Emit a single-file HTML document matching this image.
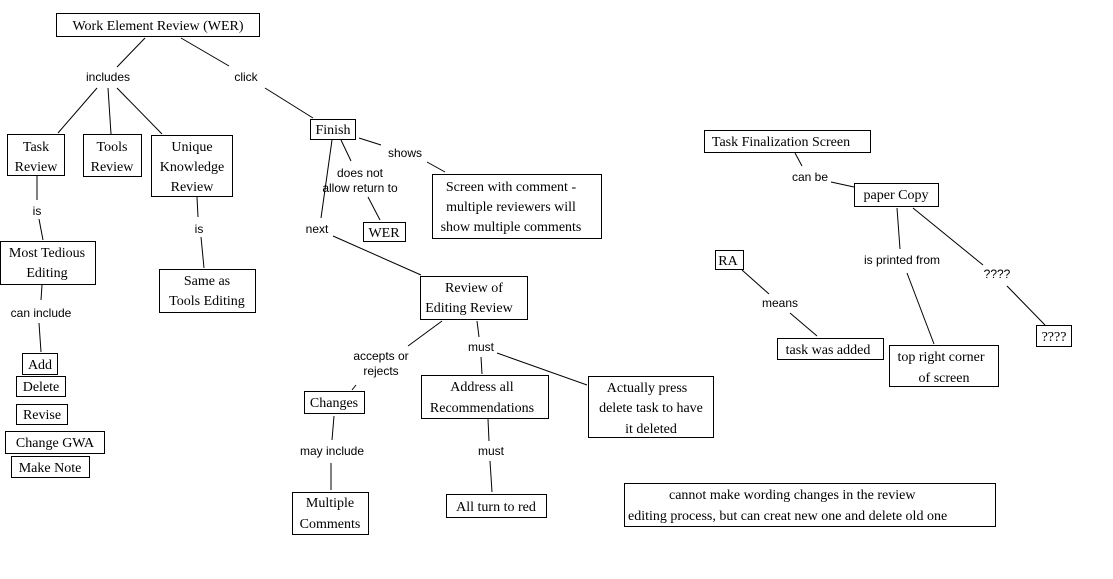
<!DOCTYPE html>
<html><head><meta charset="utf-8"><style>
body{margin:0;background:#fff;width:1113px;height:574px;overflow:hidden}
svg text{font-family:"Liberation Serif",serif;font-size:14px;fill:#000}
svg text.l{font-family:"Liberation Sans",sans-serif;font-size:12px}
rect{fill:#fff;stroke:#000;stroke-width:1}
line{stroke:#000;stroke-width:1}
</style></head><body>
<svg width="1113" height="574" xmlns="http://www.w3.org/2000/svg">
<g>
<line x1="145" y1="38" x2="117" y2="67"/><line x1="97" y1="88" x2="58" y2="133"/>
<line x1="108" y1="88" x2="111" y2="134"/><line x1="117" y1="88" x2="162" y2="134"/>
<line x1="181" y1="38" x2="229" y2="66"/><line x1="265" y1="88" x2="313" y2="118"/>
<line x1="37" y1="176" x2="37" y2="200"/><line x1="39" y1="219" x2="43" y2="240"/>
<line x1="197" y1="197" x2="198" y2="217"/><line x1="201" y1="237" x2="204" y2="268"/>
<line x1="42" y1="285" x2="41" y2="300"/><line x1="39" y1="323" x2="41" y2="352"/>
<line x1="332" y1="140" x2="321" y2="218"/><line x1="341" y1="140" x2="351" y2="161"/>
<line x1="368" y1="197" x2="380" y2="220"/>
<line x1="359" y1="138" x2="381" y2="145"/><line x1="427" y1="162" x2="445" y2="172"/>
<line x1="333" y1="236" x2="421" y2="275"/>
<line x1="442" y1="321" x2="408" y2="346"/><line x1="356" y1="385" x2="352" y2="390"/>
<line x1="477" y1="321" x2="479" y2="337"/><line x1="481" y1="357" x2="482" y2="374"/>
<line x1="497" y1="353" x2="587" y2="385"/>
<line x1="334" y1="416" x2="332" y2="440"/><line x1="331" y1="463" x2="331" y2="490"/>
<line x1="488" y1="419" x2="489" y2="441"/><line x1="490" y1="461" x2="492" y2="492"/>
<line x1="795" y1="153" x2="802" y2="166"/><line x1="831" y1="182" x2="854" y2="187"/>
<line x1="897" y1="208" x2="900" y2="249"/><line x1="907" y1="273" x2="934" y2="344"/>
<line x1="913" y1="208" x2="983" y2="265"/><line x1="1007" y1="286" x2="1045" y2="325"/>
<line x1="742" y1="270" x2="769" y2="294"/><line x1="790" y1="313" x2="817" y2="336"/>
</g>
<g text-anchor="middle">
<text class="l" x="108" y="81">includes</text>
<text class="l" x="246" y="81">click</text>
<text class="l" x="37" y="215">is</text>
<text class="l" x="199" y="233">is</text>
<text class="l" x="41" y="317">can include</text>
<text class="l" x="360" y="177">does not</text>
<text class="l" x="360" y="192">allow return to</text>
<text class="l" x="405" y="157">shows</text>
<text class="l" x="317" y="233">next</text>
<text class="l" x="381" y="360">accepts or</text>
<text class="l" x="381" y="375">rejects</text>
<text class="l" x="481" y="351">must</text>
<text class="l" x="332" y="455">may include</text>
<text class="l" x="491" y="455">must</text>
<text class="l" x="810" y="181">can be</text>
<text class="l" x="902" y="264">is printed from</text>
<text class="l" x="997" y="278">????</text>
<text class="l" x="780" y="307">means</text>
</g>
<rect x="56.5" y="13.5" width="203" height="23"/>
<rect x="7.5" y="134.5" width="57" height="41"/>
<rect x="83.5" y="134.5" width="58" height="42"/>
<rect x="151.5" y="135.5" width="81" height="61"/>
<rect x="0.5" y="241.5" width="95" height="43"/>
<rect x="159.5" y="269.5" width="96" height="43"/>
<rect x="22.5" y="353.5" width="35" height="21"/>
<rect x="16.5" y="376.5" width="49" height="20"/>
<rect x="16.5" y="404.5" width="51" height="20"/>
<rect x="5.5" y="431.5" width="99" height="22"/>
<rect x="11.5" y="456.5" width="78" height="21"/>
<rect x="304.5" y="391.5" width="60" height="22"/>
<rect x="292.5" y="492.5" width="76" height="42"/>
<rect x="310.5" y="119.5" width="45" height="20"/>
<rect x="363.5" y="222.5" width="42" height="19"/>
<rect x="432.5" y="174.5" width="169" height="64"/>
<rect x="420.5" y="276.5" width="107" height="43"/>
<rect x="421.5" y="375.5" width="127" height="43"/>
<rect x="588.5" y="376.5" width="125" height="61"/>
<rect x="446.5" y="494.5" width="100" height="23"/>
<rect x="704.5" y="130.5" width="166" height="22"/>
<rect x="854.5" y="183.5" width="84" height="23"/>
<rect x="715.5" y="250.5" width="28" height="19"/>
<rect x="777.5" y="338.5" width="106" height="21"/>
<rect x="889.5" y="345.5" width="109" height="41"/>
<rect x="1036.5" y="325.5" width="35" height="21"/>
<rect x="624.5" y="483.5" width="371" height="43"/>
<g text-anchor="middle">
<text x="158" y="30">Work Element Review (WER)</text>
<text x="36" y="151">Task</text><text x="36" y="171">Review</text>
<text x="112" y="151">Tools</text><text x="112" y="171">Review</text>
<text x="192" y="151">Unique</text><text x="192" y="171">Knowledge</text><text x="192" y="191">Review</text>
<text x="47" y="257">Most Tedious</text><text x="47" y="277">Editing</text>
<text x="207" y="285">Same as</text><text x="207" y="305">Tools Editing</text>
<text x="40" y="369">Add</text>
<text x="41" y="391">Delete</text>
<text x="42" y="419">Revise</text>
<text x="55" y="447">Change GWA</text>
<text x="50" y="472">Make Note</text>
<text x="334" y="407">Changes</text>
<text x="330" y="507">Multiple</text><text x="330" y="528">Comments</text>
<text x="333" y="134">Finish</text>
<text x="384" y="237">WER</text>
<text x="511" y="191">Screen with comment -</text>
<text x="511" y="211">multiple reviewers will</text>
<text x="511" y="231">show multiple comments</text>
<text x="474" y="292">Review of</text><text x="469" y="312">Editing Review</text>
<text x="482" y="391">Address all</text><text x="482" y="412">Recommendations</text>
<text x="647" y="392">Actually press</text><text x="651" y="412">delete task to have</text><text x="651" y="433">it deleted</text>
<text x="496" y="511">All turn to red</text>
<text x="781" y="146">Task Finalization Screen</text>
<text x="896" y="199">paper Copy</text>
<text x="728" y="265">RA</text>
<text x="828" y="354">task was added</text>
<text x="941" y="361">top right corner</text><text x="944" y="382">of screen</text>
<text x="1054" y="341">????</text>
</g>
<text x="669" y="499">cannot make wording changes in the review</text>
<text x="628" y="520">editing process, but can creat new one and delete old one</text>
</svg>
</body></html>
